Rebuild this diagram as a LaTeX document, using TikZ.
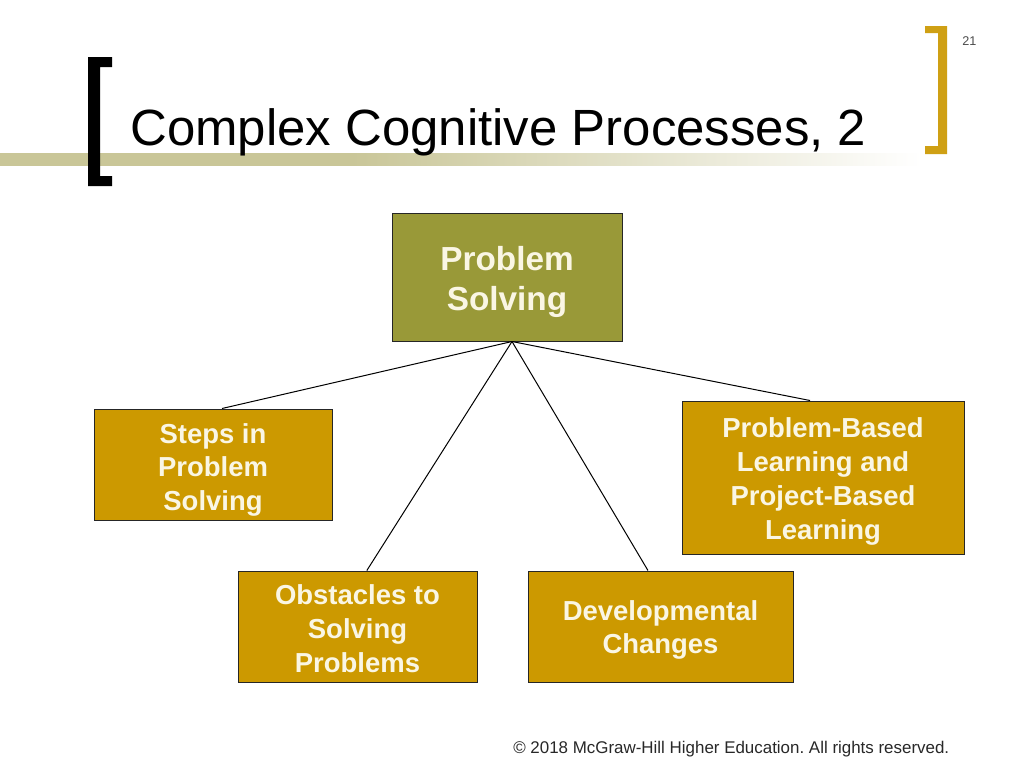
\documentclass[tikz,border=0pt]{standalone}
\usepackage{fontspec}
\setmainfont{Liberation Sans}
\frenchspacing
\definecolor{barcol}{RGB}{201,198,152}
\definecolor{goldbr}{RGB}{207,160,20}
\definecolor{olivebox}{RGB}{153,153,56}
\definecolor{goldbox}{RGB}{204,153,0}
\definecolor{boxtext}{RGB}{250,246,228}
\definecolor{foot}{RGB}{40,40,40}
\pgfdeclarehorizontalshading{barfade}{100bp}{color(0bp)=(barcol); color(43.5bp)=(barcol); color(73.5bp)=(white); color(100bp)=(white)}
\begin{document}
\begin{tikzpicture}[x=0.75pt,y=-0.75pt,
  topbox/.style={draw=black!85, line width=0.75pt, fill=olivebox, inner sep=0pt},
  subbox/.style={draw=black!85, line width=0.75pt, fill=goldbox, inner sep=0pt},
  toplabel/.style={text=boxtext, inner sep=0pt, align=center, font=\bfseries\fontsize{25}{30}\selectfont},
  sublabel/.style={text=boxtext, inner sep=0pt, align=center, font=\bfseries\fontsize{20.6}{25.3}\selectfont},
  link/.style={draw=black, line width=0.75pt}]
\useasboundingbox (0,0) rectangle (1024,768);
\fill[white] (0,0) rectangle (1024,768);
% gradient bar
\shade[shading=barfade] (0,153) rectangle (950,165);
% left black bracket
\fill[black] (88,57) -- (112,57) -- (112,67) -- (100,67) -- (100,176) -- (112,176) -- (112,186) -- (88,186) -- cycle;
% right gold bracket
\fill[goldbr] (947,26) -- (925,26) -- (925,33) -- (938,33) -- (938,146) -- (925,146) -- (925,154) -- (947,154) -- cycle;
% page number
\node[anchor=base west, inner sep=0pt, text=black!70, font=\fontsize{9.5}{11}\selectfont] (pg) at (962,45) {21};
% title
\node[anchor=base west, inner sep=0pt, font=\fontsize{38.2}{44}\selectfont] (title) at (130,145) {Complex Cognitive Processes, 2};
% boxes
\node[topbox, minimum width=172.5pt, minimum height=96pt] (ps) at (507,277) {};
\node[subbox, minimum width=178.5pt, minimum height=83.25pt] (steps) at (213,464.5) {};
\node[subbox, minimum width=211.5pt, minimum height=114.75pt] (pbl) at (823,477.5) {};
\node[subbox, minimum width=179.25pt, minimum height=83.25pt] (obs) at (357.5,626.5) {};
\node[subbox, minimum width=198.75pt, minimum height=83.25pt] (dev) at (660.5,626.5) {};
% labels
\node[toplabel] (pst) at ([yshift=-3.5pt]ps.center) {Problem\\Solving};
\node[sublabel] (stepst) at ([yshift=-4pt]steps.center) {Steps in\\Problem\\Solving};
\node[sublabel] (pblt) at ([yshift=-3pt]pbl.center) {Problem-Based\\Learning and\\Project-Based\\Learning};
\node[sublabel] (obst) at ([yshift=-1.5pt]obs.center) {Obstacles to\\Solving\\Problems};
\node[sublabel] (devt) at ([yshift=-2.5pt]dev.center) {Developmental\\Changes};
% connectors
\coordinate (apex) at ([xshift=3.75pt]ps.south);
\draw[link] (apex) -- ([xshift=6.75pt]steps.north);
\draw[link] (apex) -- ([xshift=7pt]obs.north);
\draw[link] (apex) -- ([xshift=-9.4pt]dev.north);
\draw[link] (apex) -- ([xshift=-9.75pt]pbl.north);
% footer
\node[anchor=base west, inner sep=0pt, text=foot, font=\fontsize{12.7}{15}\selectfont] (footer) at (513,753) {\textcopyright\ 2018 McGraw-Hill Higher Education. All rights reserved.};
\end{tikzpicture}
\end{document}
